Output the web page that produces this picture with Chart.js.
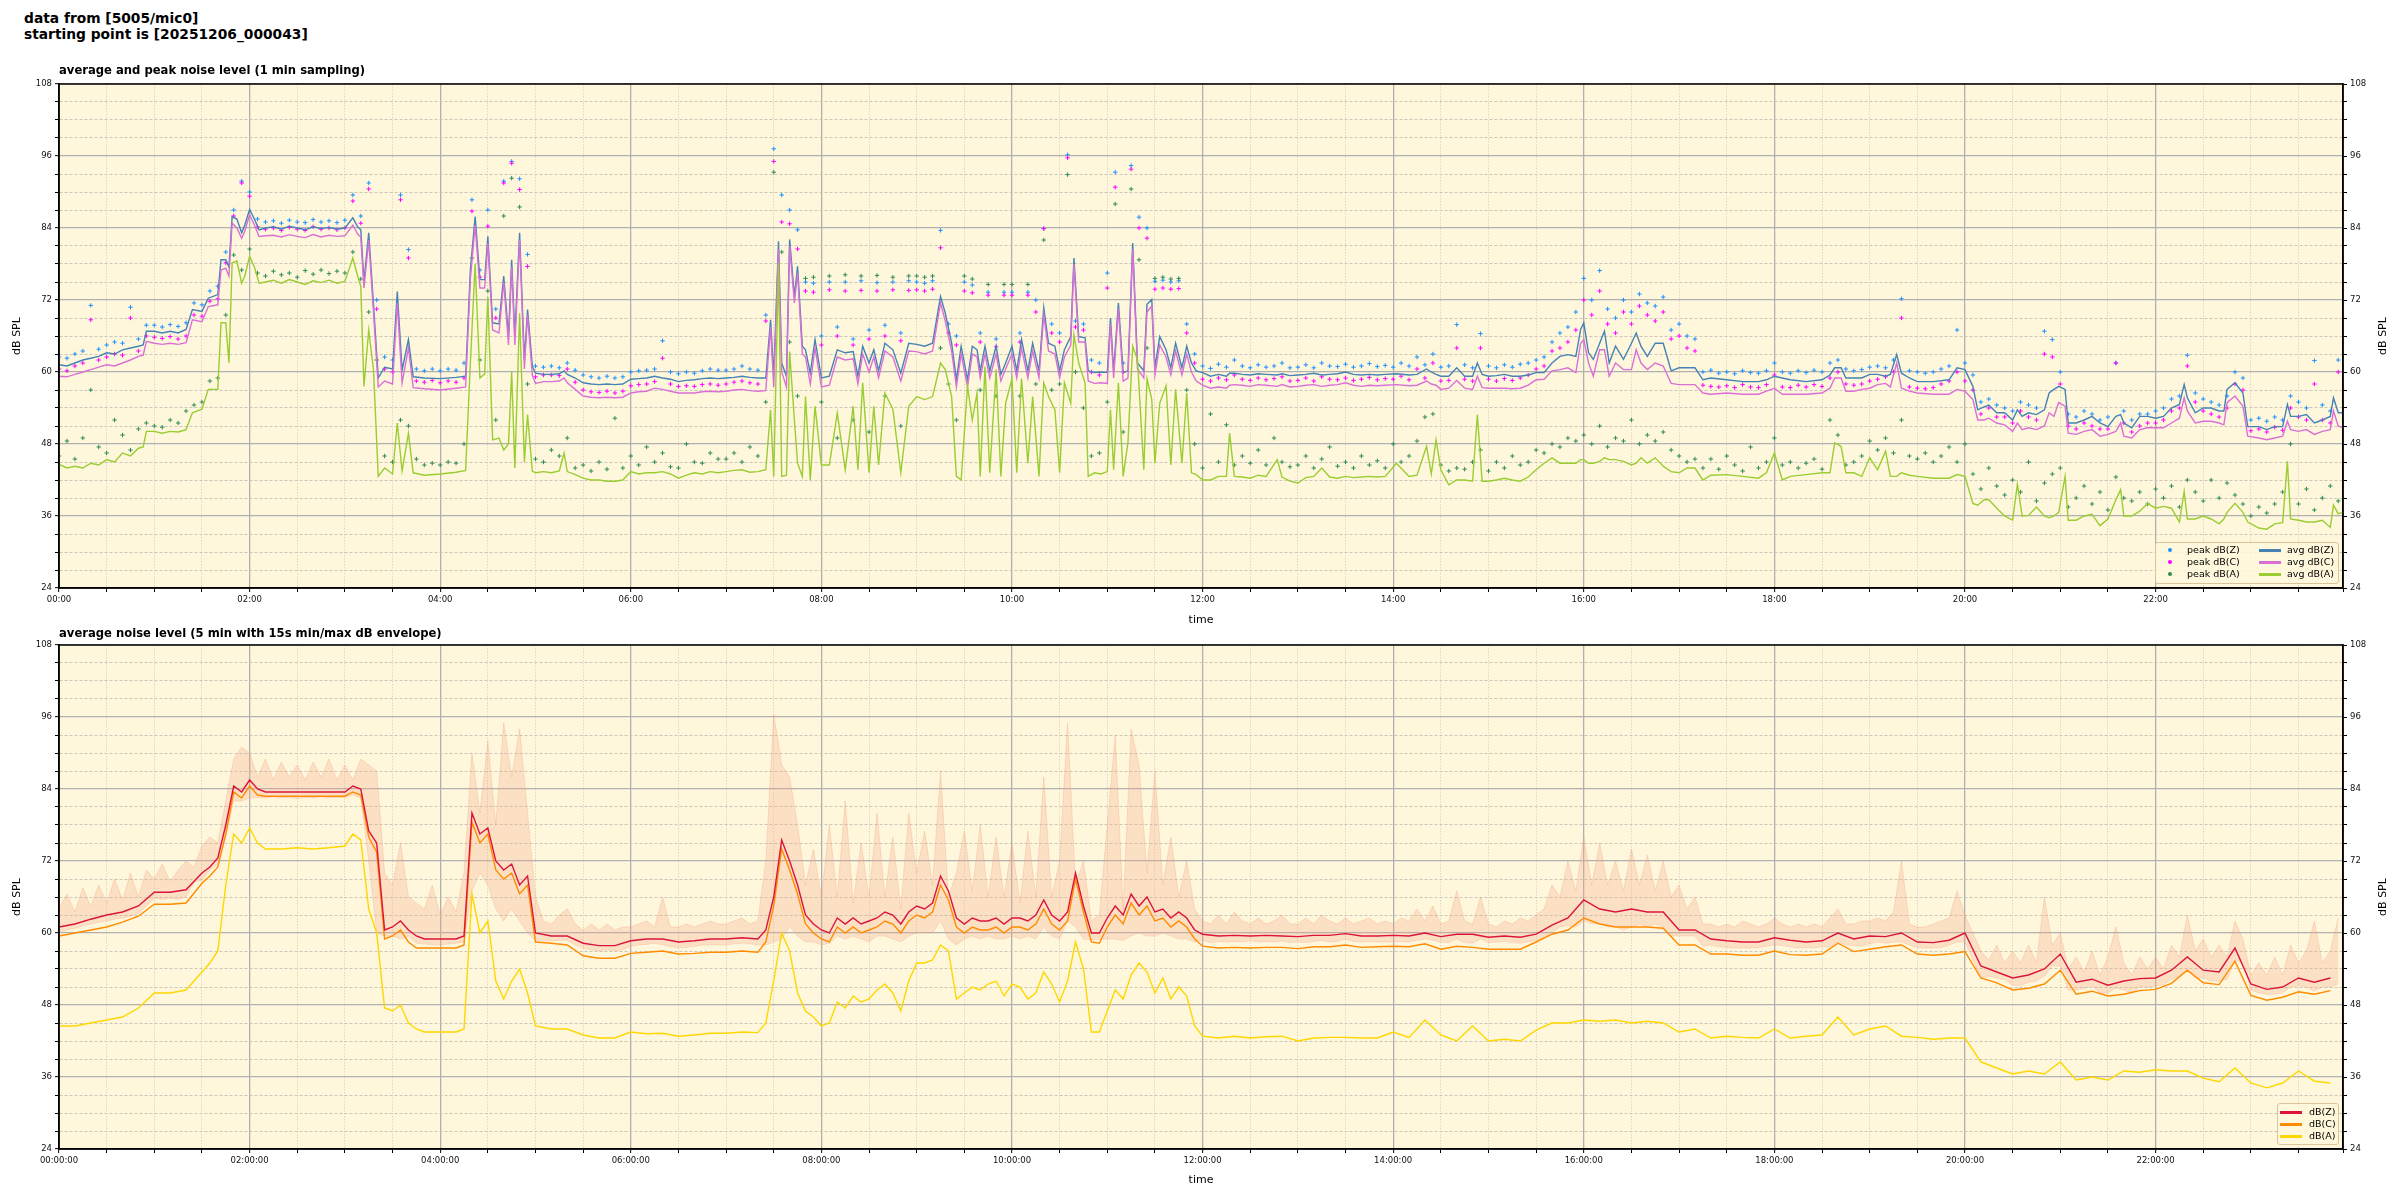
<!DOCTYPE html>
<html>
<head>
<meta charset="utf-8">
<script src="https://cdn.jsdelivr.net/npm/chart.js@4.4.1/dist/chart.umd.min.js"></script>
<style>
  body { margin: 0; background: #fff; font-family: 'DejaVu Sans', sans-serif; }
  #page { position: relative; width: 2400px; height: 1200px; overflow: hidden; }
  canvas { position: absolute; left: 0; }
  .suptitle { position: absolute; left: 24px; top: 10px; font-weight: bold; font-size: 13.8px; line-height: 16px; color: #000; }
  .ctitle { position: absolute; left: 59px; font-weight: bold; font-size: 11.6px; line-height: 13px; color: #000; white-space: nowrap; }
  .rtitle { position: absolute; font-size: 11px; color: #000; white-space: nowrap; transform: translate(-50%, -50%) rotate(-90deg); }
  .legend { position: absolute; background: rgba(255, 248, 220, 0.85); border: 1px solid #dcc49a; border-radius: 3px; font-size: 9.5px; color: #000; }
  .legend span { position: absolute; white-space: nowrap; line-height: 12px; }
  .legend i { position: absolute; display: block; }
</style>
</head>
<body>
<div id="page">
  <canvas id="topChart" width="2400" height="562" style="top:74px"></canvas>
  <canvas id="bottomChart" width="2400" height="564" style="top:636px"></canvas>

  <div class="suptitle">data from [5005/mic0]<br>starting point is [20251206_000043]</div>
  <div class="ctitle" style="top:64px">average and peak noise level (1 min sampling)</div>
  <div class="ctitle" style="top:627px">average noise level (5 min with 15s min/max dB envelope)</div>
  <div class="rtitle" style="left:2382px; top:336px">dB SPL</div>
  <div class="rtitle" style="left:2382px; top:897px">dB SPL</div>

  <div class="legend" style="left:2155px; top:542px; width:182px; height:40px">
    <i style="left:12px; top:5px; width:4px; height:4px; border-radius:2px; background:#1e90ff"></i>
    <span style="left:31px; top:1px">peak dB(Z)</span>
    <i style="left:12px; top:17px; width:4px; height:4px; border-radius:2px; background:#ff00ff"></i>
    <span style="left:31px; top:13px">peak dB(C)</span>
    <i style="left:12px; top:29px; width:4px; height:4px; border-radius:2px; background:#2e8b57"></i>
    <span style="left:31px; top:25px">peak dB(A)</span>
    <i style="left:103px; top:6px; width:22px; height:3px; background:#4682b4"></i>
    <span style="left:131px; top:1px">avg dB(Z)</span>
    <i style="left:103px; top:18px; width:22px; height:3px; background:#da70d6"></i>
    <span style="left:131px; top:13px">avg dB(C)</span>
    <i style="left:103px; top:30px; width:22px; height:3px; background:#9acd32"></i>
    <span style="left:131px; top:25px">avg dB(A)</span>
  </div>

  <div class="legend" style="left:2277px; top:1103px; width:60px; height:40px">
    <i style="left:2px; top:7px; width:22px; height:3px; background:#dc143c"></i>
    <span style="left:31px; top:2px">dB(Z)</span>
    <i style="left:2px; top:19px; width:22px; height:3px; background:#ff8c00"></i>
    <span style="left:31px; top:14px">dB(C)</span>
    <i style="left:2px; top:31px; width:22px; height:3px; background:#ffd700"></i>
    <span style="left:31px; top:26px">dB(A)</span>
  </div>
</div>

<script>
const FONT = "'DejaVu Sans', sans-serif";

const avgMinutes = [
  0, 5, 10, 15, 20, 25, 30, 35, 40, 45, 50, 53, 55, 60, 65, 70, 75, 80, 84, 90, 94, 100, 102, 105, 107, 109, 112, 115, 117,
  120, 123, 126, 130, 135, 140, 145, 150, 155, 160, 165, 170, 175, 180, 185, 188, 190, 192, 195, 198, 201, 205, 210, 213, 216, 220, 223, 230,
  240, 250, 256, 259, 262, 265, 268, 270, 273, 277, 280, 283, 285, 287, 290, 293, 295, 298,
  300, 305, 310, 315, 318, 320, 325, 330, 335, 340, 345, 350, 355, 360, 365, 370, 375, 380, 385, 390, 395, 400, 405, 410, 415,
  420, 425, 430, 435, 440, 445, 448, 450, 453, 455, 458, 460, 463, 465, 468, 470, 473, 476,
  480, 485, 490, 495, 500, 503, 506, 510, 513, 516, 520, 525, 530, 535,
  540, 545, 550, 555, 558, 562, 565, 568, 572, 575, 578, 580, 583, 586, 590, 593, 596,
  600, 603, 606, 610, 613, 617, 620, 623, 627, 630, 633, 637, 639, 642, 646, 648, 652, 656,
  660, 662, 664, 667, 670, 673, 676, 679, 683, 685, 688, 690, 693, 697, 700, 703, 707, 710, 713, 716,
  720, 725, 730, 735, 737, 740, 745, 750, 755, 760, 767, 770, 775, 780, 785, 790, 795, 800, 805, 810, 815, 820, 825, 830, 835,
  842, 850, 855, 861, 864, 867, 870, 875, 880, 885, 890, 893, 896,
  900, 905, 910, 915, 920, 925, 930, 935, 940, 945, 950, 955, 958,
  960, 963, 966, 970, 973, 976, 980, 985, 990, 993, 996, 1000, 1005, 1010, 1015,
  1020, 1025, 1030, 1035, 1040, 1050, 1060, 1070, 1075,
  1080, 1085, 1090, 1100, 1110, 1115, 1118, 1122, 1125, 1130, 1135,
  1140, 1145, 1150, 1153, 1157, 1160, 1165, 1170, 1180, 1190, 1195,
  1200, 1205, 1208, 1212, 1215, 1220, 1225, 1230, 1233, 1236, 1240, 1245, 1250, 1253, 1256, 1259,
  1263, 1265, 1270, 1275, 1280, 1285, 1290, 1295, 1298, 1300, 1305, 1310, 1315,
  1320, 1325, 1330, 1335, 1338, 1340, 1345, 1350, 1355, 1360, 1363, 1365, 1370, 1375, 1378,
  1385, 1390, 1395, 1400, 1403, 1405, 1410, 1415, 1420, 1425, 1430, 1432, 1435, 1438
];
const avgZ = [
  61.2, 61.0, 61.5, 62.0, 62.3, 62.6, 63.2, 63.0, 63.7, 64.0, 64.3, 64.5, 66.8, 66.8, 66.5, 66.8, 66.5, 67.1, 70.4, 70.1, 72.3, 72.9, 78.7, 78.7, 77.5, 85.9, 85.5, 83.2, 84.5,
  87.1, 85.5, 83.7, 84.0, 84.2, 83.8, 84.3, 84.0, 83.7, 84.2, 83.9, 84.1, 83.8, 84.0, 85.7, 84.2, 83.7, 75.1, 83.2, 71.2, 59.0, 60.8, 60.5, 73.4, 60.3, 65.4, 59.2, 59.0,
  58.9, 59.1, 59.3, 77.0, 85.9, 75.4, 75.4, 82.6, 68.2, 68.0, 76.0, 65.9, 78.7, 66.0, 83.2, 62.0, 70.4, 61.0,
  59.8, 59.6, 59.6, 59.7, 60.2, 59.6, 59.0, 58.2, 58.0, 57.9, 58.0, 57.9, 58.0, 58.8, 58.9, 59.0, 59.3, 59.0, 58.8, 58.4, 58.6, 58.7, 58.9, 59.0, 58.9,
  59.0, 59.1, 59.3, 59.1, 59.0, 59.0, 68.7, 59.3, 81.8, 61.5, 59.3, 82.1, 72.6, 77.6, 64.3, 63.7, 59.8, 65.4,
  59.0, 59.3, 63.7, 63.2, 63.4, 59.3, 64.3, 61.5, 63.7, 60.2, 64.8, 63.7, 59.8, 64.8,
  64.6, 64.3, 64.8, 72.6, 69.8, 64.8, 58.7, 64.3, 58.7, 64.3, 63.7, 60.2, 64.3, 60.2, 64.3, 59.6, 61.5,
  64.3, 60.2, 65.4, 60.2, 64.8, 60.2, 70.7, 64.8, 64.3, 60.2, 63.7, 65.9, 79.0, 65.9, 65.7, 60.2, 59.9, 60.0,
  59.9, 69.0, 60.2, 71.5, 59.9, 60.2, 81.5, 61.5, 60.2, 71.3, 72.1, 60.7, 65.9, 63.7, 60.7, 64.8, 60.7, 64.3, 61.5, 60.2,
  59.9, 59.3, 59.6, 59.3, 59.8, 59.8, 59.6, 59.5, 59.7, 59.6, 59.5, 59.7, 59.4, 59.5, 59.6, 59.8, 59.5, 59.6, 59.7, 60.0, 59.6, 59.5, 59.6, 59.5, 59.6,
  59.7, 59.5, 59.6, 60.5, 60.0, 59.6, 59.3, 59.3, 60.7, 59.3, 59.3, 61.5, 59.6,
  59.3, 59.4, 59.6, 59.3, 59.3, 59.5, 59.9, 59.9, 61.5, 62.6, 62.9, 62.6, 67.1,
  68.2, 63.2, 62.1, 64.8, 66.8, 61.5, 64.3, 62.1, 64.8, 66.5, 64.3, 62.6, 64.8, 64.8, 60.2,
  60.7, 60.7, 60.7, 58.7, 59.0, 58.7, 58.4, 58.4, 58.7,
  59.3, 59.0, 58.7, 58.4, 58.7, 59.5, 60.7, 60.7, 59.0, 59.0, 59.0,
  59.6, 59.6, 59.3, 59.6, 62.9, 59.8, 59.0, 58.4, 58.4, 58.7, 60.7,
  60.4, 57.6, 53.7, 54.2, 54.5, 53.2, 53.2, 52.0, 53.7, 52.6, 53.2, 52.9, 53.7, 56.5, 57.1, 57.6,
  57.1, 51.5, 51.5, 52.0, 52.6, 51.5, 50.9, 52.6, 52.9, 51.5, 50.7, 52.6, 52.6,
  52.3, 52.6, 54.0, 54.6, 57.9, 55.7, 53.2, 54.0, 54.0, 53.5, 53.5, 57.1, 58.2, 56.5, 50.9,
  50.9, 50.4, 50.9, 50.9, 54.6, 52.6, 52.6, 52.9, 51.5, 52.0, 52.6, 55.7, 53.2, 53.2
];
const avgC = [
  59.3, 59.2, 59.6, 60.0, 60.4, 60.8, 61.2, 61.0, 61.5, 62.0, 62.6, 62.8, 65.1, 64.8, 64.6, 64.8, 64.6, 64.9, 68.7, 68.4, 70.9, 71.2, 77.0, 77.3, 76.0, 84.8, 84.0, 82.3, 83.5,
  86.2, 84.5, 82.6, 82.7, 82.8, 82.5, 82.9, 82.6, 82.4, 82.9, 82.5, 82.8, 82.6, 82.7, 84.5, 83.0, 82.5, 74.0, 82.0, 70.0, 57.5, 58.5, 58.0, 71.5, 58.2, 64.0, 57.4, 57.2,
  57.0, 57.3, 57.5, 75.5, 84.5, 74.0, 74.0, 81.5, 67.0, 66.5, 75.0, 64.5, 77.5, 64.5, 82.0, 60.5, 69.5, 59.5,
  58.1, 58.4, 58.4, 58.5, 59.0, 58.2, 57.1, 56.0, 55.8, 55.7, 55.8, 55.7, 55.8, 56.5, 56.7, 56.8, 57.3, 57.1, 56.8, 56.5, 56.5, 56.5, 56.7, 56.8, 56.7,
  56.8, 57.0, 57.1, 56.9, 56.8, 56.9, 67.5, 57.5, 80.5, 60.0, 57.5, 81.0, 71.5, 76.5, 63.0, 62.5, 58.0, 64.0,
  57.5, 57.8, 62.5, 62.0, 62.2, 58.0, 63.0, 60.0, 62.5, 59.0, 63.5, 62.5, 58.5, 63.5,
  63.4, 63.0, 63.5, 71.5, 68.5, 63.5, 57.5, 63.0, 57.5, 63.0, 62.5, 59.0, 63.0, 59.0, 63.0, 58.5, 60.5,
  63.0, 59.0, 64.0, 59.0, 63.5, 59.0, 69.5, 63.5, 63.0, 59.0, 62.5, 64.5, 78.0, 65.0, 65.0, 58.5, 58.1, 58.2,
  58.1, 68.0, 59.0, 70.5, 58.5, 59.0, 80.5, 60.5, 59.0, 70.0, 71.0, 59.5, 64.5, 62.5, 59.5, 63.5, 59.5, 63.0, 60.0, 58.5,
  57.8, 57.3, 57.5, 57.3, 57.8, 57.9, 57.8, 57.6, 57.9, 57.8, 57.6, 57.9, 57.5, 57.6, 57.8, 57.9, 57.6, 57.8, 57.9, 58.2, 57.8, 57.6, 57.8, 57.7, 57.8,
  57.9, 57.7, 57.8, 58.5, 58.0, 57.8, 57.1, 57.3, 58.6, 57.3, 57.1, 59.3, 57.4,
  57.3, 57.3, 57.3, 57.2, 57.3, 57.8, 58.7, 58.8, 60.2, 60.4, 60.7, 59.9, 64.8,
  65.4, 61.5, 59.3, 63.7, 63.7, 59.3, 61.5, 60.4, 60.4, 63.7, 61.5, 60.4, 61.5, 61.0, 58.1,
  57.9, 57.9, 57.9, 56.5, 56.3, 56.5, 56.3, 56.3, 56.8,
  57.3, 56.3, 56.3, 56.3, 56.5, 57.3, 59.0, 59.0, 56.8, 56.8, 57.1,
  57.3, 57.9, 58.1, 57.5, 61.5, 57.3, 56.8, 56.5, 56.3, 56.3, 57.1,
  56.8, 55.4, 52.0, 52.0, 52.3, 51.5, 51.2, 50.1, 51.5, 50.4, 50.7, 50.4, 51.0, 53.2, 52.6, 54.9,
  54.3, 49.8, 49.6, 50.1, 50.4, 49.3, 49.6, 50.1, 51.5, 49.3, 49.0, 50.4, 50.7,
  50.7, 50.7, 51.5, 52.3, 55.7, 53.5, 51.5, 51.8, 51.8, 51.5, 51.2, 54.9, 56.0, 54.3, 49.3,
  49.0, 48.7, 49.0, 49.3, 51.8, 50.4, 50.1, 50.4, 49.6, 50.1, 50.4, 53.5, 51.0, 50.7
];
const avgA = [
  44.6, 44.0, 44.3, 44.0, 44.8, 44.5, 45.4, 45.0, 46.5, 46.0, 47.3, 47.5, 50.1, 50.1, 49.8, 50.1, 50.0, 50.4, 53.2, 53.8, 57.1, 57.1, 68.2, 68.2, 61.5, 78.2, 78.5, 74.8, 76.0,
  79.3, 77.5, 74.8, 75.0, 75.3, 74.8, 75.4, 75.0, 74.6, 75.2, 74.9, 75.3, 74.8, 75.1, 79.0, 76.0, 74.3, 57.6, 67.0, 60.4, 42.6, 44.0, 43.0, 51.5, 43.5, 49.8, 43.2, 42.8,
  43.0, 43.3, 43.6, 61.5, 78.0, 59.0, 59.7, 72.6, 48.7, 49.0, 47.0, 48.0, 60.0, 44.0, 69.8, 45.0, 52.9, 43.5,
  43.2, 43.4, 43.2, 43.5, 46.5, 43.4, 42.9, 42.3, 42.0, 42.0, 41.8, 41.8, 42.0, 43.4, 43.0, 43.2, 43.2, 43.4, 43.0, 42.3, 42.8, 43.2, 43.0, 43.4, 43.2,
  43.4, 43.6, 43.7, 43.3, 43.4, 43.7, 53.7, 42.6, 78.2, 42.6, 42.8, 63.4, 52.0, 44.8, 42.6, 55.9, 42.0, 54.3,
  44.5, 44.5, 53.2, 43.7, 54.3, 43.7, 58.2, 43.2, 54.3, 44.5, 56.5, 53.8, 43.2, 54.3,
  55.9, 55.4, 55.9, 61.5, 60.4, 55.9, 42.6, 42.0, 57.7, 52.0, 56.5, 42.6, 60.9, 43.2, 60.4, 42.6, 54.8,
  58.9, 43.2, 58.9, 44.8, 55.9, 42.6, 58.2, 55.9, 53.7, 43.2, 58.2, 54.8, 66.2, 61.5, 58.2, 42.6, 43.2, 43.0,
  43.4, 53.7, 43.7, 58.2, 42.6, 48.2, 64.3, 62.1, 43.7, 58.9, 55.4, 44.8, 54.8, 57.7, 44.5, 57.1, 44.8, 56.5, 43.2, 42.9,
  42.0, 42.0, 42.6, 42.6, 49.8, 42.6, 42.5, 42.3, 42.8, 42.6, 45.4, 42.5, 41.8, 41.5, 42.4, 42.6, 44.0, 42.5, 42.3, 42.6, 42.4, 42.5, 42.6, 42.5, 42.6,
  44.8, 42.6, 42.8, 47.6, 43.0, 48.7, 43.7, 41.2, 42.0, 42.0, 41.8, 52.9, 41.8,
  41.8, 42.0, 42.3, 42.0, 41.8, 42.5, 43.7, 44.8, 45.7, 44.8, 44.8, 44.8, 45.4,
  45.4, 44.8, 44.8, 45.1, 45.7, 45.4, 45.4, 45.1, 44.5, 44.8, 45.7, 44.8, 45.7, 44.3, 43.4,
  43.2, 44.0, 44.0, 42.0, 42.8, 42.9, 42.6, 42.3, 43.2,
  46.5, 42.0, 42.6, 42.9, 43.2, 43.2, 48.2, 47.6, 43.2, 43.2, 42.6,
  45.7, 43.7, 46.8, 42.6, 42.6, 43.2, 42.8, 42.6, 42.3, 42.3, 42.9,
  42.6, 38.1, 37.8, 38.7, 38.7, 37.3, 36.0, 35.3, 41.3, 36.0, 36.1, 37.5, 36.0, 35.7, 36.0, 36.6,
  42.6, 35.3, 35.3, 36.0, 36.3, 34.4, 35.5, 38.7, 40.4, 36.0, 36.0, 36.8, 38.1,
  37.3, 37.6, 37.3, 35.0, 40.1, 35.5, 35.5, 36.0, 35.5, 34.7, 35.5, 36.6, 38.1, 36.6, 35.0,
  34.0, 33.8, 34.7, 34.9, 45.1, 35.5, 35.3, 35.0, 35.0, 35.3, 34.1, 37.8, 36.4, 36.6
];

// ---- top chart: peak values, one every 5 min (12 per hour) ----
const peakZ = [
  62.5, 62.3, 63.0, 63.5, 71.1, 63.8, 64.5, 65.0, 64.8, 70.8, 65.5, 67.8,
  67.8, 67.5, 67.9, 67.6, 68.2, 71.5, 71.2, 73.5, 74.3, 80.0, 87.0, 91.8,
  90.0, 85.5, 85.0, 85.2, 84.8, 85.3, 85.0, 84.9, 85.4, 85.0, 85.2, 84.9,
  85.3, 89.5, 86.0, 91.5, 72.0, 62.5, 62.0, 89.5, 80.4, 60.5, 60.2, 60.5,
  60.2, 60.5, 60.3, 61.5, 88.7, 77.0, 87.0, 70.5, 91.8, 95.1, 92.2, 79.6,
  61.0, 60.8, 61.0, 60.7, 61.5, 60.3, 59.5, 59.2, 59.0, 59.3, 59.0, 59.2,
  60.0, 60.2, 60.3, 60.5, 65.2, 60.0, 59.7, 60.0, 59.8, 60.2, 60.5, 60.3,
  60.3, 60.5, 61.0, 60.5, 60.3, 69.5, 97.2, 89.5, 87.0, 83.7, 75.0, 74.8,
  66.0, 75.0, 67.5, 75.0, 65.5, 75.2, 67.0, 74.9, 67.8, 75.0, 66.5, 75.2,
  75.0, 74.8, 75.2, 83.6, 68.0, 66.0, 75.0, 74.5, 66.5, 73.3, 65.5, 73.3,
  73.3, 66.5, 73.3, 72.0, 83.9, 68.0, 66.5, 96.2, 68.5, 68.0, 62.0, 61.5,
  76.5, 93.3, 61.5, 94.4, 85.8, 84.0, 75.1, 75.3, 75.0, 75.2, 68.0, 63.0,
  61.0, 60.6, 61.3, 60.8, 62.0, 61.0, 60.7, 61.2, 60.8, 61.0, 61.5, 60.7,
  60.8, 61.2, 60.7, 61.5, 61.0, 60.9, 61.3, 60.8, 61.0, 61.4, 60.9, 61.1,
  60.8, 61.5, 61.0, 62.5, 61.2, 63.0, 60.8, 61.0, 67.9, 61.2, 60.7, 66.4,
  61.0, 60.7, 61.2, 60.8, 61.3, 61.5, 62.0, 62.5, 65.0, 66.5, 67.5, 70.0,
  75.6, 72.0, 76.9, 70.5, 69.0, 72.0, 70.0, 73.0, 71.5, 71.0, 72.5, 67.0,
  68.0, 66.0, 65.5, 60.0, 60.3, 59.8, 60.0, 59.7, 60.2, 59.9, 59.8, 60.2,
  61.5, 60.0, 59.8, 60.2, 59.9, 60.3, 60.0, 61.5, 62.0, 60.5, 60.2, 60.4,
  60.8, 61.0, 60.7, 62.0, 72.2, 60.2, 60.0, 59.8, 60.0, 60.5, 61.0, 67.0,
  61.5, 59.5, 55.0, 55.5, 54.5, 54.0, 53.5, 55.0, 54.5, 54.0, 66.8, 65.4,
  60.0, 53.0, 52.5, 53.5, 53.0, 52.0, 52.5, 61.5, 53.5, 52.0, 53.0, 53.0,
  53.5, 54.0, 55.5, 56.0, 62.8, 56.5, 55.5, 55.0, 54.5, 56.0, 60.0, 59.0,
  52.0, 52.3, 51.8, 52.5, 52.0, 56.0, 55.0, 54.0, 61.9, 54.5, 53.5, 62.0
];
const peakC = [
  60.5, 60.2, 61.0, 61.5, 68.7, 62.0, 62.5, 63.0, 62.8, 69.0, 63.5, 66.0,
  65.8, 65.6, 65.9, 65.5, 66.0, 69.5, 69.3, 71.8, 72.2, 78.2, 86.0, 91.5,
  89.3, 84.2, 83.8, 84.0, 83.6, 84.1, 83.8, 83.6, 84.2, 83.8, 84.0, 83.7,
  84.0, 88.5, 84.8, 90.5, 70.5, 60.5, 60.0, 88.7, 79.0, 58.5, 58.3, 58.6,
  58.2, 58.5, 58.3, 59.0, 86.8, 75.8, 84.3, 69.0, 91.5, 94.8, 90.4, 77.6,
  59.2, 59.5, 59.5, 59.4, 60.5, 58.3, 57.0, 56.7, 56.6, 56.8, 56.5, 56.8,
  57.7, 57.9, 58.0, 58.4, 62.3, 58.0, 57.6, 57.7, 57.6, 57.9, 58.0, 57.8,
  58.0, 58.3, 58.5, 58.2, 58.0, 68.5, 95.1, 85.0, 84.7, 80.5, 73.5, 73.3,
  64.5, 73.7, 66.0, 73.5, 64.5, 73.6, 65.5, 73.5, 66.0, 73.7, 65.2, 73.6,
  73.7, 73.5, 73.8, 80.7, 66.5, 64.5, 73.5, 73.2, 65.0, 72.8, 64.2, 72.8,
  72.8, 65.0, 72.8, 70.0, 83.9, 66.5, 65.0, 95.7, 67.5, 67.0, 60.0, 59.5,
  74.0, 90.8, 60.0, 93.8, 84.0, 82.3, 73.8, 74.0, 73.8, 73.9, 66.5, 61.5,
  58.8, 58.5, 59.0, 58.7, 59.5, 58.8, 58.6, 59.0, 58.7, 58.9, 59.2, 58.5,
  58.6, 59.0, 58.5, 59.2, 58.8, 58.7, 59.0, 58.6, 58.8, 59.1, 58.7, 58.9,
  58.8, 59.3, 58.7, 60.5, 59.0, 61.5, 58.5, 58.6, 64.0, 58.8, 58.5, 64.0,
  58.8, 58.5, 58.9, 58.6, 59.0, 59.5, 60.5, 61.0, 63.5, 64.0, 65.0, 67.0,
  72.0, 69.5, 73.5, 68.0, 66.5, 70.0, 68.0, 71.0, 69.5, 68.5, 70.0, 65.5,
  66.0, 64.0, 63.5, 57.8, 57.6, 57.5, 57.7, 57.4, 57.9, 57.5, 57.4, 57.9,
  59.5, 57.5, 57.4, 57.8, 57.5, 57.9, 57.6, 59.0, 60.0, 58.0, 57.8, 58.0,
  58.5, 58.8, 59.2, 60.0, 69.0, 57.5, 57.3, 57.2, 57.4, 58.0, 58.5, 60.0,
  58.5, 57.0, 53.0, 54.0, 52.5, 52.5, 51.5, 53.5, 52.5, 52.0, 63.0, 62.5,
  58.0, 51.0, 50.5, 51.5, 51.0, 50.5, 50.5, 61.5, 51.5, 50.0, 51.0, 51.5,
  51.5, 52.0, 53.5, 54.0, 61.0, 55.0, 53.5, 53.0, 52.5, 54.0, 58.0, 57.0,
  50.2, 50.5, 50.0, 50.8, 50.3, 54.0, 52.5, 52.0, 58.0, 52.0, 51.5, 60.0
];
const peakA = [
  46.0, 48.5, 45.5, 49.0, 57.0, 47.5, 46.5, 52.0, 49.5, 47.0, 50.5, 51.5,
  51.0, 50.8, 52.0, 51.5, 53.5, 54.5, 55.0, 58.5, 59.0, 69.5, 79.5, 77.0,
  80.5, 76.5, 76.0, 76.8, 76.2, 76.5, 75.8, 76.9, 76.3, 77.0, 76.4, 76.8,
  76.5, 80.0, 75.5, 70.0, 62.0, 46.0, 45.0, 52.0, 51.0, 45.5, 44.5, 44.8,
  44.5, 45.0, 44.8, 48.0, 79.0, 62.0, 73.5, 52.0, 86.0, 92.3, 87.5, 58.0,
  45.5, 45.0, 47.0, 46.0, 49.0, 44.0, 44.5, 43.5, 45.0, 43.8, 52.3, 44.0,
  46.0, 44.5, 47.5, 45.0, 46.5, 44.2, 44.0, 48.0, 45.0, 44.8, 46.5, 45.5,
  45.5, 46.5, 45.0, 47.5, 46.0, 55.0, 93.3, 80.0, 65.0, 56.0, 75.6, 75.8,
  55.0, 76.0, 49.0, 76.2, 52.0, 76.0, 50.0, 76.1, 56.0, 75.8, 51.0, 76.0,
  76.0, 75.8, 76.0, 64.0, 58.0, 52.0, 76.0, 75.5, 57.0, 74.6, 56.0, 74.6,
  74.6, 56.0, 74.6, 58.0, 82.0, 57.0, 58.0, 92.9, 60.0, 54.0, 46.0, 46.5,
  55.0, 88.0, 50.0, 90.5, 78.7, 64.0, 75.6, 75.8, 75.5, 75.6, 57.0, 48.0,
  44.0, 53.0, 45.0, 51.2, 44.5, 46.0, 44.8, 47.0, 44.5, 49.0, 45.0, 44.2,
  44.5, 46.0, 44.0, 45.5, 47.5, 44.3, 45.0, 44.0, 46.0, 44.5, 45.2, 44.0,
  48.0, 45.0, 46.0, 48.5, 52.5, 53.0, 44.5, 43.5, 44.0, 43.8, 45.0, 47.0,
  43.5, 45.0, 44.0, 46.0, 44.5, 45.0, 47.0, 46.5, 48.0, 47.5, 49.0, 48.5,
  49.5, 48.0, 51.0, 47.5, 49.0, 48.5, 52.0, 48.0, 49.5, 48.5, 50.0, 47.0,
  46.0, 45.0, 45.5, 44.0, 45.5, 43.8, 46.0, 44.5, 43.5, 47.5, 44.0, 45.0,
  49.0, 44.5, 45.0, 44.0, 44.8, 45.5, 43.8, 52.0, 49.5, 44.5, 45.0, 46.0,
  48.5, 47.0, 49.0, 46.5, 52.0, 46.0, 45.5, 46.5, 45.0, 46.0, 47.5, 45.0,
  48.0, 43.0, 40.5, 44.0, 41.0, 39.5, 42.0, 40.0, 45.0, 38.5, 41.5, 43.0,
  44.0, 37.5, 39.0, 41.0, 38.0, 40.0, 37.0, 42.5, 39.0, 38.5, 40.0, 38.0,
  40.5, 39.0, 41.0, 37.5, 42.0, 40.0, 38.5, 42.0, 39.0, 41.5, 39.5, 38.0,
  36.0, 37.5, 36.5, 38.0, 40.0, 48.0, 38.0, 40.5, 37.0, 39.0, 41.0, 38.5
];

// ---- bottom chart: 15 s min/max envelope of dB(Z), one every 5 min ----
const envMax = [
  64, 66.5, 63.5, 67.5, 64.5, 68, 65, 69, 65.5, 70, 66, 70.5,
  69, 71.5, 68.5, 70.5, 72, 71, 74.5, 76, 75, 82, 89, 91,
  90, 86, 89, 85.5, 88.5, 86, 88, 85.5, 88.5, 86, 89, 85.5,
  88, 85.5, 89, 88, 87, 70, 68, 75, 66, 65, 64, 68,
  63, 66, 63.5, 70, 90, 80, 92, 78, 95, 86, 94, 80,
  66, 62, 61.5, 63, 64, 61.5, 60.5, 61.5, 60.5, 61.5, 60.5, 61,
  61, 61.5, 62, 61, 66, 61, 61, 61.5, 61, 61.5, 62, 61.5,
  61.5, 62, 62.5, 61.5, 62, 72, 96.5, 88, 86, 78, 68, 74,
  66, 78, 66, 82, 65, 75, 66, 80, 66, 76, 64, 80,
  70, 77, 68, 87, 66, 70, 77, 67, 78, 66, 76, 66,
  75, 65, 77, 66, 86, 66, 72, 95, 68, 72, 62, 63,
  78, 93, 64, 94, 88, 70, 87, 68, 76, 66, 72, 64,
  62, 61.5, 63, 61.5, 63.5, 62, 61.5, 62.5, 61.5, 62, 63, 61.5,
  61.5, 62.5, 61.5, 63, 62, 61.5, 62.5, 61.5, 62, 62.5, 61.5, 62,
  61.5, 62.5, 62, 64, 62, 64.5, 61.5, 62, 67, 62, 61.5, 66,
  61.5, 61, 62, 61.5, 62.5, 62, 63, 64, 68, 66, 72, 67,
  76, 68, 75, 68, 72, 67, 74, 68, 73, 67, 72, 66,
  68, 64, 66, 61.5, 61.5, 61, 61.5, 61, 62, 61.5, 61, 61.5,
  62.5, 61.5, 61, 61.5, 61, 61.5, 61, 62.5, 64, 61.5, 61.5, 62,
  62, 62.5, 62, 63.5, 72, 61.5, 61, 61, 61.5, 62, 62.5, 67,
  63, 60, 57, 55.5, 58, 55, 57, 55, 58, 55, 66, 58,
  60, 54, 56, 53.5, 57, 53, 56, 61, 55, 53, 56, 54,
  56, 54, 58, 56, 63, 57, 59, 56, 58, 56, 62, 59,
  53, 55, 53, 56, 53, 58, 55, 57, 62, 55, 57, 62.5
];
const envMin = [
  60.2, 60.5, 60.8, 61.2, 61.5, 61.8, 62.0, 62.3, 62.5, 62.8, 63.2, 64.5,
  65.8, 65.6, 65.8, 65.6, 66.0, 68.5, 68.8, 70.5, 71.5, 76.0, 82.0, 82.0,
  82.5, 82.6, 82.5, 82.7, 82.5, 82.6, 82.4, 82.6, 82.5, 82.7, 82.5, 82.6,
  82.6, 83.0, 82.5, 72.0, 60.0, 59.5, 59.5, 59.0, 59.5, 58.3, 58.2, 58.0,
  58.0, 58.2, 58.3, 58.5, 67.0, 70.0, 68.0, 64.0, 62.0, 64.0, 62.0, 60.0,
  58.8, 58.8, 58.7, 58.8, 58.8, 58.0, 57.4, 57.2, 57.0, 57.2, 57.0, 57.2,
  57.8, 58.0, 58.1, 58.3, 58.0, 57.8, 57.5, 57.6, 57.8, 58.0, 58.0, 58.0,
  58.0, 58.2, 58.3, 58.2, 58.0, 58.0, 58.5, 59.0, 61.0, 59.5, 58.5, 58.5,
  58.0, 58.3, 59.5, 59.0, 59.5, 59.0, 58.5, 59.5, 59.5, 59.0, 58.5, 59.5,
  60.0, 60.0, 60.0, 62.0, 59.0, 58.0, 59.0, 59.5, 59.0, 59.5, 59.0, 59.0,
  59.5, 59.0, 59.5, 59.0, 61.0, 59.5, 59.0, 62.0, 61.0, 59.0, 58.8, 58.9,
  59.0, 59.0, 58.8, 59.5, 60.0, 59.5, 59.5, 60.0, 59.5, 59.0, 59.0, 58.5,
  58.8, 58.4, 58.6, 58.5, 58.6, 58.5, 58.7, 58.5, 58.6, 58.5, 58.7, 58.4,
  58.5, 58.4, 58.6, 58.8, 58.5, 58.6, 59.0, 58.6, 58.5, 58.6, 58.5, 58.5,
  58.5, 58.6, 58.5, 58.8, 59.0, 58.8, 58.5, 58.4, 59.0, 58.4, 58.3, 59.0,
  58.4, 58.5, 58.6, 58.4, 58.3, 58.5, 58.8, 59.2, 60.0, 61.0, 61.2, 61.0,
  62.0, 61.5, 61.5, 61.0, 61.0, 60.5, 61.0, 61.5, 61.0, 61.5, 61.0, 59.5,
  59.5, 59.5, 59.5, 57.8, 58.0, 57.7, 57.6, 57.5, 57.5, 57.5, 57.6, 57.8,
  58.0, 57.9, 57.7, 57.5, 57.6, 57.5, 57.7, 57.7, 58.5, 58.0, 57.9, 57.8,
  58.2, 58.5, 58.3, 58.5, 58.5, 58.0, 57.6, 57.5, 57.5, 57.6, 58.0, 58.5,
  58.5, 55.5, 52.5, 52.8, 52.5, 52.2, 51.3, 51.3, 51.8, 52.0, 52.8, 54.5,
  54.5, 50.5, 50.5, 50.8, 51.2, 50.0, 50.0, 50.8, 50.5, 50.0, 51.0, 51.0,
  51.2, 51.4, 52.3, 52.8, 53.8, 52.5, 52.5, 52.0, 52.0, 52.3, 55.5, 55.0,
  50.5, 50.0, 49.8, 49.8, 50.0, 51.0, 51.2, 51.0, 50.3, 51.0, 51.0, 51.5
];

// ---- bottom chart: 5 min averages (every 5 min in busy stretches, else every 10) ----
const botMinutes = [
  0, 10, 20, 30, 40, 50, 60, 70, 80, 90,
  95, 100, 105, 110, 115, 120, 125, 130,
  140, 150, 160, 170, 180,
  185, 190, 195, 200, 205, 210, 215, 220, 225, 230,
  240,
  250, 255, 260, 265, 270, 275, 280, 285, 290, 295, 300,
  310, 320, 330, 340, 350, 360, 370, 380, 390, 400, 410, 420, 430,
  440, 445, 450, 455, 460, 465, 470, 475,
  480, 485, 490, 495, 500, 505, 510, 515, 520, 525, 530, 535,
  540, 545, 550, 555, 560, 565, 570, 575, 580, 585, 590, 595,
  600, 605, 610, 615, 620, 625, 630, 635, 640, 645, 650, 655,
  660, 665, 670, 675, 680, 685, 690, 695, 700, 705, 710, 715,
  720, 730, 740, 750, 760, 770,
  780, 790, 800, 810, 820, 830, 840, 850, 860, 870, 880, 890,
  900, 910, 920, 930, 940, 950, 960, 970, 980, 990, 1000, 1010,
  1020, 1030, 1040, 1050, 1060, 1070, 1080, 1090, 1100, 1110, 1120, 1130,
  1140, 1150, 1160, 1170, 1180, 1190, 1200, 1210, 1220, 1230, 1240, 1250,
  1260, 1270, 1280, 1290, 1300, 1310, 1320, 1330, 1340, 1350, 1360, 1370,
  1380, 1390, 1400, 1410, 1420, 1430
];
const botZ = [
  61.0, 61.5, 62.3, 63.0, 63.5, 64.5, 66.8, 66.8, 67.2, 70.0,
  71.0, 72.5, 78.0, 84.5, 83.5, 85.5, 84.0, 83.5,
  83.5, 83.5, 83.5, 83.5, 83.5,
  84.5, 84.0, 77.0, 75.0, 60.5, 61.0, 62.0, 60.5, 59.5, 59.0,
  59.0,
  59.0, 59.5, 80.0, 76.5, 77.5, 72.0, 70.5, 71.5, 68.0, 69.5, 60.0,
  59.5, 59.5, 58.3, 57.9, 57.9, 58.7, 59.0, 59.0, 58.5, 58.7, 59.0, 59.0, 59.2,
  59.0, 60.5, 66.0, 75.5, 72.0, 68.0, 63.0, 61.5,
  60.5, 60.0, 62.5, 61.5, 62.5, 61.5, 62.0, 62.5, 63.5, 63.0, 61.5, 63.5,
  64.5, 64.0, 65.0, 69.5, 67.0, 62.5, 61.5, 62.5, 62.0, 62.0, 62.5, 61.5,
  62.5, 62.5, 62.0, 63.0, 65.5, 63.0, 62.0, 63.5, 70.0, 64.5, 60.0, 60.0,
  62.5, 64.5, 63.0, 66.5, 64.5, 66.0, 63.5, 64.0, 62.5, 63.5, 62.5, 60.5,
  59.8, 59.5, 59.6, 59.5, 59.6, 59.5,
  59.4, 59.6, 59.6, 59.9, 59.5, 59.5, 59.6, 59.5, 60.0, 59.4, 59.8, 59.8,
  59.3, 59.5, 59.3, 59.8, 61.3, 62.5, 65.5, 64.0, 63.5, 64.0, 63.5, 63.5,
  60.5, 60.5, 59.0, 58.7, 58.5, 58.5, 59.2, 58.8, 58.5, 58.7, 60.0, 59.0,
  59.5, 59.4, 60.0, 58.5, 58.4, 58.8, 60.0, 54.5, 53.5, 52.5, 53.0, 54.0,
  56.5, 51.8, 52.3, 51.3, 52.0, 52.4, 52.5, 53.8, 56.0, 53.8, 53.5, 57.5,
  51.5, 50.6, 51.0, 52.5, 51.8, 52.5
];
const botC = [
  59.5, 60.0, 60.5, 61.0, 61.8, 62.8, 64.8, 64.8, 65.0, 68.3,
  69.5, 71.0, 76.5, 83.5, 82.5, 84.5, 83.0, 82.8,
  82.8, 82.8, 82.8, 82.8, 82.8,
  83.5, 83.0, 76.0, 73.5, 59.0, 59.5, 60.5, 58.5, 57.5, 57.5,
  57.5,
  57.5, 58.0, 78.5, 75.0, 76.5, 70.5, 69.0, 70.0, 66.5, 68.0, 58.5,
  58.3, 58.0, 56.2, 55.8, 55.8, 56.6, 56.8, 57.0, 56.5, 56.6, 56.8, 56.8, 57.0,
  56.8, 58.5, 64.5, 74.0, 70.5, 66.5, 61.5, 60.0,
  59.0, 58.5, 61.0, 60.0, 61.0, 60.0, 60.5, 61.0, 62.0, 61.5, 60.0, 62.0,
  63.0, 62.5, 63.5, 68.0, 65.5, 61.0, 60.0, 61.0, 60.5, 60.5, 61.0, 60.0,
  61.0, 61.0, 60.5, 61.5, 64.0, 61.5, 60.5, 62.0, 69.0, 63.5, 58.5, 58.3,
  61.0, 63.0, 61.5, 65.0, 63.0, 64.5, 62.0, 62.5, 61.0, 62.0, 61.0, 59.0,
  57.8, 57.5, 57.6, 57.5, 57.6, 57.6,
  57.4, 57.7, 57.7, 58.0, 57.6, 57.7, 57.8, 57.7, 58.2, 57.3, 57.8, 57.6,
  57.3, 57.3, 57.3, 58.5, 59.8, 60.5, 62.5, 61.5, 61.0, 61.0, 61.0, 60.8,
  58.0, 58.0, 56.5, 56.5, 56.3, 56.3, 57.0, 56.4, 56.3, 56.5, 58.3, 56.9,
  57.3, 57.7, 58.0, 56.5, 56.3, 56.5, 56.9, 52.5, 51.7, 50.5, 50.8, 51.5,
  53.8, 49.8, 50.3, 49.5, 49.8, 50.4, 50.6, 51.6, 53.8, 51.7, 51.4, 55.3,
  49.6, 48.8, 49.3, 50.2, 49.8, 50.4
];
const botA = [
  44.5, 44.5, 45.0, 45.5, 46.0, 47.5, 50.0, 50.0, 50.5, 53.5,
  55.0, 57.0, 68.0, 76.5, 75.0, 77.5, 75.0, 74.0,
  74.0, 74.2, 74.0, 74.2, 74.5,
  76.5, 75.5, 64.0, 60.0, 47.5, 47.0, 48.0, 45.0, 44.0, 43.5,
  43.5,
  43.5, 44.0, 66.5, 60.0, 62.0, 52.0, 49.0, 52.0, 54.0, 50.0, 44.5,
  44.0, 44.0, 43.0, 42.5, 42.5, 43.5, 43.2, 43.3, 42.8, 43.0, 43.3, 43.3, 43.5,
  43.4, 45.0, 52.0, 60.0, 57.0, 50.0, 47.0, 46.0,
  44.5, 45.0, 48.5, 47.5, 49.5, 48.5, 49.0, 50.5, 51.5, 50.0, 47.0, 52.0,
  55.0, 55.0, 55.5, 58.0, 57.0, 49.0, 50.0, 51.0, 50.5, 51.5, 52.0, 49.5,
  51.5, 51.0, 49.0, 50.0, 53.5, 51.5, 48.5, 52.0, 58.5, 54.0, 43.5, 43.5,
  47.0, 50.5, 49.0, 53.0, 55.0, 53.5, 50.0, 52.5, 49.0, 51.0, 49.5, 44.5,
  42.8, 42.5, 42.8, 42.5, 42.7, 42.8,
  42.0, 42.5, 42.6, 42.6, 42.5, 42.5, 43.5, 42.6, 45.5, 43.0, 42.0, 44.5,
  42.0, 42.3, 42.0, 43.8, 45.0, 45.0, 45.5, 45.3, 45.5, 45.0, 45.3, 45.0,
  43.5, 44.0, 42.5, 42.8, 42.6, 42.5, 44.0, 42.5, 42.8, 43.0, 46.0, 43.0,
  44.0, 44.5, 42.8, 42.6, 42.3, 42.5, 42.5, 38.5, 37.5, 36.5, 37.0, 36.5,
  38.5, 35.5, 36.0, 35.5, 37.0, 36.8, 37.2, 37.0, 37.0, 35.8, 35.2, 37.5,
  35.0, 34.2, 35.0, 37.0, 35.3, 35.0
];

// evenly spaced time stamps (minutes after the starting point)
const peakMinutes = peakZ.map((_, i) => i * 5);
const envMinutes = envMax.map((_, i) => i * 5);

const X_MAX = 1438;

function pts(xs, ys) {
  return ys.map((y, i) => ({ x: xs[i], y: y }));
}

function clock(v, withSeconds) {
  const h = String(Math.floor(v / 60)).padStart(2, '0');
  const m = String(v % 60).padStart(2, '0');
  return withSeconds ? h + ':' + m + ':00' : h + ':' + m;
}

const isTick = c => c && c.type === 'tick' && c.tick;
const majorX = c => isTick(c) && c.tick.value % 120 === 0;
const majorY = c => isTick(c) && c.tick.value % 12 === 0;

// cornsilk plot background + black frame
const plotFrame = {
  id: 'plotFrame',
  beforeDraw(chart) {
    const { ctx, chartArea: a } = chart;
    ctx.save();
    ctx.fillStyle = '#fff7dc';
    ctx.fillRect(a.left, a.top, a.right - a.left, a.bottom - a.top);
    ctx.restore();
  },
  afterDraw(chart) {
    const { ctx, chartArea: a } = chart;
    ctx.save();
    ctx.strokeStyle = '#000';
    ctx.lineWidth = 1.5;
    ctx.strokeRect(a.left, a.top, a.right - a.left, a.bottom - a.top);
    ctx.restore();
  }
};

function makeScales(withSeconds, axisHeight, timePad) {
  const tickFont = { family: FONT, size: 8.5 };
  return {
    x: {
      type: 'linear',
      min: 0,
      max: X_MAX,
      afterFit: s => { s.height = axisHeight; },
      ticks: {
        stepSize: 30, autoSkip: false, maxRotation: 0, minRotation: 0, padding: 3,
        font: tickFont, color: '#111',
        callback: v => (v % 120 === 0 ? clock(v, withSeconds) : '')
      },
      grid: {
        color: c => (majorX(c) ? '#b0b0b0' : '#dcd3bb'),
        lineWidth: c => (majorX(c) ? 1.3 : 0.9),
        tickColor: '#000', tickLength: 4, tickWidth: 1
      },
      border: {
        display: true, color: '#000', width: 1.5,
        dash: c => (isTick(c) && c.tick.value % 120 !== 0 ? [1.5, 1.5] : [])
      },
      title: {
        display: true, text: 'time', color: '#000',
        font: { family: FONT, size: 11 }, padding: { top: 0, bottom: timePad }
      }
    },
    y: {
      position: 'left',
      min: 24,
      max: 108,
      afterFit: s => { s.width = 59; },
      ticks: {
        stepSize: 3, autoSkip: false, padding: 3,
        font: tickFont, color: '#111',
        callback: v => (v % 12 === 0 ? v : '')
      },
      grid: {
        color: c => (majorY(c) ? '#b0b0b0' : '#c4c0b6'),
        lineWidth: c => (majorY(c) ? 1.3 : 0.9),
        tickColor: '#000', tickLength: 4, tickWidth: 1
      },
      border: {
        display: true, color: '#000', width: 1.5,
        dash: c => (isTick(c) && c.tick.value % 12 !== 0 ? [3, 2] : [])
      },
      title: {
        display: true, text: 'dB SPL', color: '#000',
        font: { family: FONT, size: 11 }, padding: { top: 11, bottom: 0 }
      }
    },
    y2: {
      position: 'right',
      min: 24,
      max: 108,
      afterFit: s => { s.width = 57; },
      ticks: {
        stepSize: 3, autoSkip: false, padding: 3,
        font: tickFont, color: '#111',
        callback: v => (v % 12 === 0 ? v : '')
      },
      grid: { drawOnChartArea: false, tickColor: '#000', tickLength: 4, tickWidth: 1 },
      border: { display: true, color: '#000', width: 1.5 }
    }
  };
}

function lineSet(label, xs, ys, color, order) {
  return {
    label: label, data: pts(xs, ys), borderColor: color, backgroundColor: color,
    borderWidth: 1.4, pointRadius: 0, fill: false, tension: 0, order: order
  };
}

function peakSet(label, ys, color, order) {
  return {
    label: label, data: pts(peakMinutes, ys), showLine: false,
    pointStyle: 'cross', pointRadius: 2.2, pointBorderWidth: 1,
    borderColor: color, backgroundColor: color, order: order
  };
}

const commonOptions = (scales, padTop) => ({
  responsive: false,
  animation: false,
  devicePixelRatio: 1,
  events: [],
  layout: { padding: { top: padTop, left: 0, right: 0, bottom: 0 } },
  plugins: { legend: { display: false }, tooltip: { enabled: false }, title: { display: false } },
  scales: scales
});

new Chart(document.getElementById('topChart'), {
  type: 'line',
  data: {
    datasets: [
      peakSet('peak dB(Z)', peakZ, '#1e90ff', 5),
      peakSet('peak dB(C)', peakC, '#ff00ff', 4),
      peakSet('peak dB(A)', peakA, '#2e8b57', 3),
      lineSet('avg dB(Z)', avgMinutes, avgZ, '#4682b4', 2),
      lineSet('avg dB(C)', avgMinutes, avgC, '#da70d6', 1),
      lineSet('avg dB(A)', avgMinutes, avgA, '#9acd32', 0)
    ]
  },
  options: commonOptions(makeScales(false, 48, 9), 10),
  plugins: [plotFrame]
});

new Chart(document.getElementById('bottomChart'), {
  type: 'line',
  data: {
    datasets: [
      {
        label: 'envelope min', data: pts(envMinutes, envMin),
        borderColor: 'rgba(240, 150, 120, 0.35)', borderWidth: 0.7, pointRadius: 0, fill: false, order: 4
      },
      {
        label: 'envelope max', data: pts(envMinutes, envMax),
        borderColor: 'rgba(240, 150, 120, 0.4)', backgroundColor: 'rgba(245, 165, 135, 0.28)',
        borderWidth: 0.7, pointRadius: 0, fill: '-1', order: 3
      },
      lineSet('dB(Z)', botMinutes, botZ, '#dc143c', 0),
      lineSet('dB(C)', botMinutes, botC, '#ff8c00', 1),
      lineSet('dB(A)', botMinutes, botA, '#ffd700', 2)
    ]
  },
  options: commonOptions(makeScales(true, 51, 13), 9),
  plugins: [plotFrame]
});
</script>
</body>
</html>
